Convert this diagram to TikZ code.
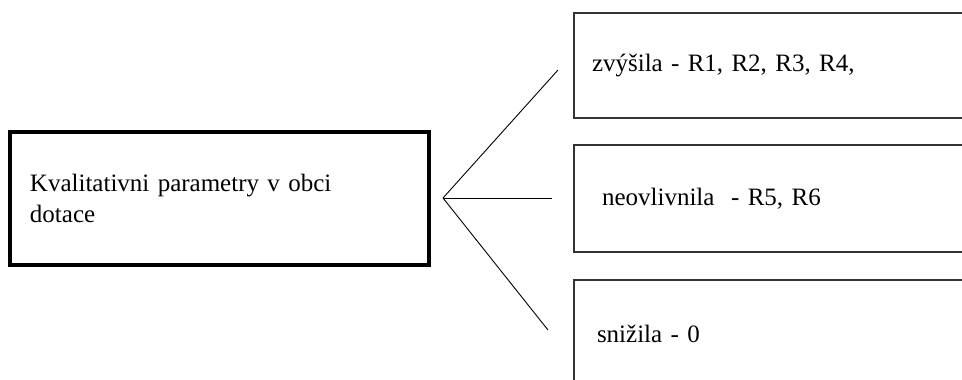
\documentclass[tikz,border=0pt]{standalone}
\usepackage{fontspec}
\setmainfont{Liberation Serif}
\begin{document}
\begin{tikzpicture}[x=1pt, y=-1pt,
    every node/.style={font=\fontsize{25}{31}\selectfont},
    mainbox/.style={draw, line width=3.5pt, minimum width=419pt, minimum height=133pt,
      text width=379pt, align=left, inner xsep=20pt, inner ysep=0pt},
    resbox/.style={draw=black!80, line width=1.2pt, minimum width=426pt,
      text width=390pt, align=left, inner xsep=18pt, inner ysep=0pt}]
    \useasboundingbox (0,0) rectangle (962,380);
    \clip (0,0) rectangle (962,380);

    \node[mainbox] (main) at (219.5, 198.5) {Kvalitativni parametry v obci\\dotace};

    \node[resbox, minimum height=105pt] (r0) at (787, 65.5) {zvýšila - R1, R2, R3, R4,};
    \node[resbox, minimum height=107pt] (r1) at (787, 198.5) {\hspace*{10pt}neovlivnila\ \ - R5, R6};
    \node[resbox, minimum height=107pt] (r2) at (787, 333.5) {\hspace*{5pt}snižila - 0};

    \coordinate (fork) at (443, 198);
    \coordinate (f0) at (558, 70);
    \coordinate (f1) at (552, 198);
    \coordinate (f2) at (548, 330);

    \draw[line width=0.9pt] (fork) -- (f0);
    \draw[line width=0.9pt] (fork) -- (f1);
    \draw[line width=0.9pt] (fork) -- (f2);
  \end{tikzpicture}
\end{document}
